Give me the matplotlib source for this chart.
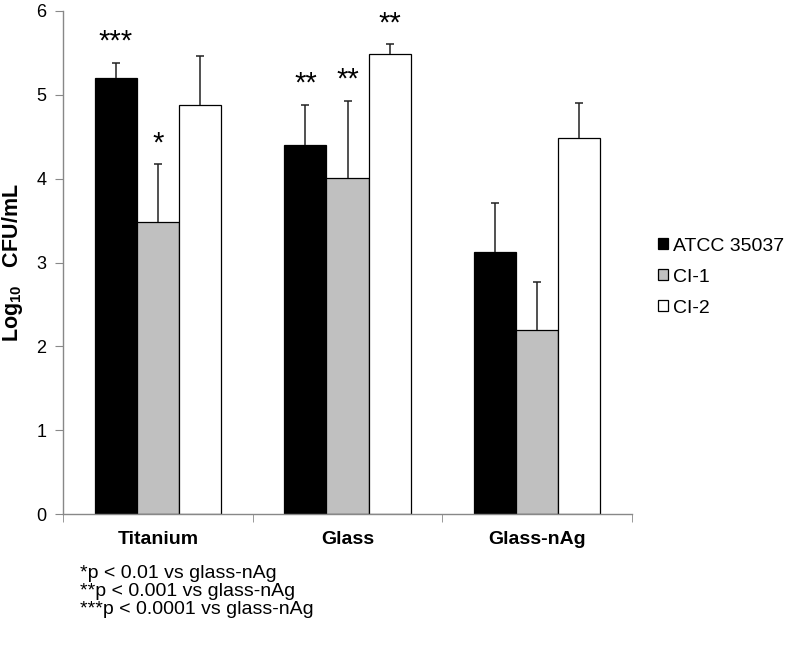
import matplotlib
matplotlib.use("Agg")
import matplotlib.pyplot as plt
import numpy as np

plt.rcParams['font.family'] = ['Liberation Sans', 'DejaVu Sans']
plt.rcParams['mathtext.fontset'] = 'custom'
plt.rcParams['mathtext.rm'] = 'Liberation Sans'
plt.rcParams['mathtext.bf'] = 'Liberation Sans:bold'

# --- data ---
surfaces = ['Titanium', 'Glass', 'Glass-nAg']
strains = ['ATCC 35037', 'CI-1', 'CI-2']
atcc = [5.20, 4.40, 3.13]
ci1 = [3.48, 4.01, 2.19]
ci2 = [4.88, 5.48, 4.48]
atcc_err = [0.18, 0.48, 0.58]
ci1_err = [0.69, 0.92, 0.58]
ci2_err = [0.58, 0.12, 0.42]
stars_atcc = ['***', '**', '']
stars_ci1 = ['*', '**', '']
stars_ci2 = ['', '**', '']
footnotes = ['*p < 0.01 vs glass-nAg',
             '**p < 0.001 vs glass-nAg',
             '***p < 0.0001 vs glass-nAg']

colors = ['black', '#c0c0c0', 'white']
series = [atcc, ci1, ci2]
errors = [atcc_err, ci1_err, ci2_err]
stars = [stars_atcc, stars_ci1, stars_ci2]

fig = plt.figure(figsize=(7.88, 6.5), dpi=100)
ax = fig.add_axes([0.080, 0.2088, 0.722, 0.7747])

x = np.arange(len(surfaces))
w = 0.222
for i, (vals, errs, col, lab, st) in enumerate(zip(series, errors, colors, strains, stars)):
    pos = x + (i - 1) * w
    vals = np.array(vals)
    errs = np.array(errs)
    ax.bar(pos, vals, width=w, color=col, edgecolor='black', linewidth=0.9, label=lab, zorder=2)
    # plus-only error bars
    ax.vlines(pos, vals, vals + errs, color='#222222', linewidth=1.1, zorder=3)
    ax.plot(pos, vals + errs, ls='none', marker='_', markersize=6, markeredgewidth=1.1,
            color='#222222', zorder=3)
    for p, v, e, s in zip(pos, vals, errs, st):
        if s:
            ax.text(p, v + e + 0.08, s, ha='center', va='bottom', fontsize=21)

ax.set_xlim(-0.5, 2.5)
ax.set_ylim(0, 6)
ax.set_yticks(range(7))
ax.set_xticks(x)
ax.set_xticklabels(surfaces, fontsize=14, fontweight='bold')
ax.set_xticks(np.arange(-0.5, 3.0, 1.0), minor=True)
ax.tick_params(axis='x', which='major', length=0, pad=12)
ax.tick_params(axis='x', which='minor', length=6, color='#888888', direction='out')
ax.tick_params(axis='y', length=6, color='#888888', labelsize=13, pad=6)
for side in ['top', 'right']:
    ax.spines[side].set_visible(False)
for side in ['left', 'bottom']:
    ax.spines[side].set_color('#888888')
    ax.spines[side].set_linewidth(1.0)

ax.set_ylabel(r'Log$_{\mathbf{10}}$   CFU/mL', fontsize=15.5, fontweight='bold', labelpad=8)

ax.legend(loc='center left', bbox_to_anchor=(1.046, 0.471), frameon=False, fontsize=14,
          handlelength=0.52, handleheight=0.52, handletextpad=0.25, labelspacing=0.72,
          borderpad=0, borderaxespad=0)

for k, t in enumerate(footnotes):
    fig.text(80 / 788, 1 - (573 + 18.5 * k) / 650, t, ha='left', va='center', fontsize=14)

fig.savefig('out.png', dpi=100)
